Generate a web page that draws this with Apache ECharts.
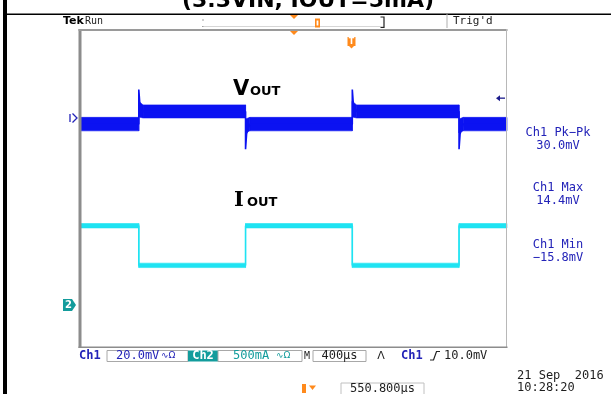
<!DOCTYPE html>
<html>
<head>
<meta charset="utf-8">
<script src="https://cdn.jsdelivr.net/npm/echarts@6.0.0/dist/echarts.min.js"></script>
<style>
html, body { margin: 0; padding: 0; background: #fff; }
#scope { width: 611px; height: 394px; }
</style>
</head>
<body>
<div id="scope"></div>
<script>
// time in µs, 0 = trigger point; 10 div x 400µs on screen
const tStart = -2550.8, tEnd = 1449.2;

// Ch1 Vout (mV) - noise envelope of the trace
const vTime = [-2550.8, -2000, -2000, -1960, -1000, -1000, -960, 0, 0, 40, 1000, 1000, 1040, 1449.2];
const vLo   = [-6.5, -6.5, 0.5, 0.0, 0.0, -7.6, -6.5, -6.5, 0.5, 0.0, 0.0, -7.6, -6.5, -6.5];
const vHi   = [0.3, 0.3, 8.4, 6.6, 6.6, -0.5, 0.3, 0.3, 8.4, 6.6, 6.6, -0.5, 0.3, 0.3];
// Ch1 centre trace with the load step spikes
const vTraceTime = [-2550.8, -2000, -2000, -1990, -1960, -1000, -1000, -990, -960, 0, 0, 10, 40, 1000, 1000, 1010, 1040, 1449.2];
const vTraceMv   = [-3.1, -3.1, 14.4, 7.0, 3.3, 3.3, -15.8, -8.0, -3.1, -3.1, 14.4, 7.0, 3.3, 3.3, -15.8, -8.0, -3.1, -3.1];

// Ch2 Iout (mA)
const iTime  = [-2550.8, -2000, -2000, -1000, -1000, 0, 0, 1000, 1000, 1449.2];
const iLevel = [1000, 1000, 500, 500, 1000, 1000, 500, 500, 1000, 1000];
const iLo    = [972, 972, 472, 472, 972, 972, 472, 472, 972, 972];
const iHi    = [1028, 1028, 528, 528, 1028, 1028, 528, 528, 1028, 1028];

// readouts
const measNames  = ['Ch1 Pk\u2212Pk', 'Ch1 Max', 'Ch1 Min'];
const measValues = ['30.0mV', '14.4mV', '\u221215.8mV'];
const ch1Scale = '20.0mV', ch2Scale = '500mA', timeScale = '400\u00b5s';
const trigLevelMv = 10.0, trigText = '10.0mV', hPos = '550.800\u00b5s';
const dateText = '21 Sep  2016', timeText = '10:28:20';

const BLUE = '#0b12f2', CYAN = '#1fe3f2', TEAL = '#139c9c', CH1TXT = '#2323b8';
const ORANGE = '#ff8a1c', MONO = '"DejaVu Sans Mono"';

function zip(a, b) {
  let out = [];
  for (let i = 0; i < a.length; i++) out.push([a[i], b[i]]);
  return out;
}
// one item per segment: [t0, lo0, hi0, t1, lo1, hi1]
function segments(t, lo, hi) {
  let out = [];
  for (let i = 0; i < t.length - 1; i++) out.push([t[i], lo[i], hi[i], t[i + 1], lo[i + 1], hi[i + 1]]);
  return out;
}
function bandSeries(name, axis, data, color) {
  return {
    name: name, type: 'custom', yAxisIndex: axis, silent: true,
    encode: { x: [0, 3], y: [1, 2, 4, 5] },
    renderItem: function (params, api) {
      let a = api.coord([api.value(0), api.value(1)]);
      let b = api.coord([api.value(0), api.value(2)]);
      let c = api.coord([api.value(3), api.value(5)]);
      let d = api.coord([api.value(3), api.value(4)]);
      return {
        type: 'polygon',
        shape: { points: [a, b, c, d] },
        style: { fill: color, stroke: color, lineWidth: 0.6 }
      };
    },
    data: data
  };
}

let chart = echarts.init(document.getElementById('scope'));

let option = {
  animation: false,
  grid: { left: 80, right: 104, top: 30, bottom: 47 },
  xAxis: { type: 'value', min: tStart, max: tEnd, show: false },
  yAxis: [
    { type: 'value', min: -115.6, max: 44.4, show: false },  // Ch1, 20mV/div
    { type: 'value', min: -530, max: 3470, show: false }      // Ch2, 500mA/div
  ],
  series: [
    bandSeries('vBand', 0, segments(vTime, vLo, vHi), BLUE),
    {
      name: 'Vout', type: 'line', yAxisIndex: 0, symbol: 'none', silent: true,
      lineStyle: { color: BLUE, width: 1.6 },
      data: zip(vTraceTime, vTraceMv)
    },
    bandSeries('iBand', 1, segments(iTime, iLo, iHi), CYAN),
    {
      name: 'Iout', type: 'line', yAxisIndex: 1, symbol: 'none', silent: true,
      lineStyle: { color: CYAN, width: 1.6 },
      data: zip(iTime, iLevel)
    }
  ]
};
chart.setOption(option);

// screen decorations
let els = [];
function txt(x, y, s, o) {
  els.push({
    type: 'text', x: x, y: y, z: 30, silent: true,
    style: Object.assign({
      text: s, fill: '#1e1e1e', font: '12px ' + MONO,
      align: 'left', verticalAlign: 'middle'
    }, o || {})
  });
}
function rect(x, y, w, h, fill, stroke, z) {
  els.push({
    type: 'rect', z: z || 15, silent: true,
    shape: { x: x, y: y, width: w, height: h },
    style: { fill: fill || 'none', stroke: stroke || null, lineWidth: 1 }
  });
}
function poly(points, fill, stroke, closed, w) {
  els.push({
    type: closed ? 'polygon' : 'polyline', z: 21, silent: true,
    shape: { points: points },
    style: { fill: fill || 'none', stroke: stroke || null, lineWidth: w || 1 }
  });
}

// page frame of the datasheet
rect(3, 0, 4, 394, '#000');
rect(3, 13.5, 608, 1.5, '#000');
txt(308, 12, '(3.3VIN, IOUT=5mA)', { font: 'bold 22px "DejaVu Sans"', fill: '#000', align: 'center', verticalAlign: 'bottom' });

// top status bar
txt(63, 21, 'Tek', { font: 'bold 11px "DejaVu Sans"', fill: '#000' });
txt(85, 21, 'Run', { font: '10px ' + MONO, fill: '#222' });
rect(202.5, 19.5, 1, 1, '#444');
rect(202.5, 26, 1, 1, '#444');
rect(203, 26, 181, 0.8, '#c8c8c8');
poly([[380.5, 17], [384, 17], [384, 27.5], [380.5, 27.5]], null, '#222', false, 1.2);
rect(446.5, 14, 1, 14, '#b0b0b0');
txt(453, 21.5, "Trig'd", { font: '11px ' + MONO, fill: '#222' });
poly([[290, 15], [298, 15], [294, 19]], ORANGE, null, true);
rect(315, 18.5, 5, 9, ORANGE);
rect(316.6, 20.5, 1.8, 5, '#fff', null, 16);

// graticule frame
rect(78.5, 29, 3, 319, '#8c8c8c', null, 12);
rect(78.5, 29, 429, 2, '#9a9a9a', null, 12);
rect(506, 29, 1, 319, '#b8b8b8', null, 12);
rect(78.5, 346.5, 429, 1.5, '#8c8c8c', null, 12);
poly([[290, 31], [298, 31], [294, 35]], ORANGE, null, true);
rect(347.5, 37, 8, 9, ORANGE, null, 16);
poly([[349, 46], [354, 46], [351.5, 48.5]], ORANGE, null, true);
txt(351.5, 41.5, 'T', { font: 'bold 8px "DejaVu Sans"', fill: '#fff', align: 'center' });

// waveform names
txt(233, 89.5, 'V', { font: 'bold 21px "DejaVu Sans"', fill: '#000' });
txt(250, 92, 'OUT', { font: 'bold 13px "DejaVu Sans"', fill: '#000' });
txt(234, 200.5, 'I', { font: 'bold 21px "DejaVu Serif"', fill: '#000' });
txt(247, 203, 'OUT', { font: 'bold 13px "DejaVu Sans"', fill: '#000' });

// channel ground markers and trigger level from the axes
let y1 = chart.convertToPixel({ yAxisIndex: 0 }, 0);
let y2 = chart.convertToPixel({ yAxisIndex: 1 }, 0);
let yT = chart.convertToPixel({ yAxisIndex: 0 }, trigLevelMv);
poly([[70, y1 - 4], [70, y1 + 4]], null, CH1TXT, false, 1.3);
poly([[72.5, y1 - 4.5], [77, y1], [72.5, y1 + 4.5]], null, CH1TXT, false, 1.3);
poly([[63, y2 - 6], [72, y2 - 6], [76, y2], [72, y2 + 6], [63, y2 + 6]], TEAL, null, true);
txt(68.5, y2 + 0.5, '2', { font: 'bold 10px "DejaVu Sans"', fill: '#fff', align: 'center' });
poly([[498, yT], [505, yT]], null, '#1c1c8c', false, 1.3);
poly([[496, yT], [500, yT - 3], [500, yT + 3]], '#1c1c8c', null, true);

// measurement readouts
const measY = [133, 188, 245];
for (let i = 0; i < measNames.length; i++) {
  txt(558, measY[i], measNames[i], { fill: CH1TXT, align: 'center' });
  txt(558, measY[i] + 12.5, measValues[i], { fill: CH1TXT, align: 'center' });
}

// bottom status line
const yb = 356;
txt(79, yb, 'Ch1', { fill: CH1TXT, font: 'bold 12px ' + MONO });
rect(107, 350.5, 81, 11, '#fff', '#a8a8a8');
txt(116, yb, ch1Scale, { fill: CH1TXT });
txt(161, yb, '\u223fΩ', { fill: CH1TXT, font: '9px "DejaVu Sans"' });
rect(188, 350.5, 30, 11, TEAL);
txt(203, yb, 'Ch2', { fill: '#fff', align: 'center', font: 'bold 12px ' + MONO });
rect(218, 350.5, 84, 11, '#fff', '#a8a8a8');
txt(233, yb, ch2Scale, { fill: TEAL });
txt(276, yb, '\u223fΩ', { fill: TEAL, font: '9px "DejaVu Sans"' });
txt(304, yb, 'M', { font: '10px ' + MONO });
rect(313, 350.5, 53, 11, '#fff', '#a8a8a8');
txt(339.5, yb, timeScale, { align: 'center' });
txt(381, yb, '\u039b', { align: 'center', font: '11px "DejaVu Sans"' });
txt(401, yb, 'Ch1', { fill: CH1TXT, font: 'bold 12px ' + MONO });
poly([[430, 360], [433.5, 360], [436.5, 351.5], [440, 351.5]], null, '#222', false, 1.2);
txt(444, yb, trigText);
txt(517, 376, dateText);
txt(517, 388, timeText);

rect(302, 384, 4, 9, ORANGE);
poly([[309, 385.5], [316, 385.5], [312.5, 390]], ORANGE, null, true);
rect(341, 383, 83, 12, '#fff', '#c0c0c0');
txt(382.5, 389, hPos, { align: 'center' });

chart.setOption({ graphic: { elements: els } });
</script>
</body>
</html>
